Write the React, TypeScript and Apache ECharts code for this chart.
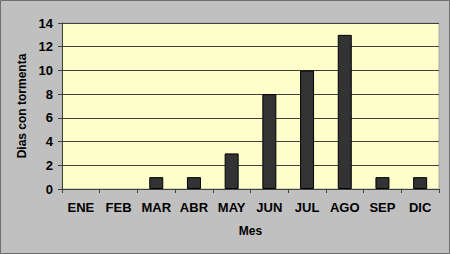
import React, { useEffect, useRef } from "react";
import * as echarts from "echarts";

const categories = ["ENE", "FEB", "MAR", "ABR", "MAY", "JUN", "JUL", "AGO", "SEP", "DIC"];
const values = [0, 0, 1, 1, 3, 8, 10, 13, 1, 1];
const yAxisName = "Dias con tormenta";
const xAxisName = "Mes";

export default function App() {
  const ref = useRef<HTMLDivElement>(null);
  useEffect(() => {
    const chart = echarts.init(ref.current!, null, { renderer: "svg" });
    const font = "'Liberation Sans', Arial, sans-serif";
    chart.setOption({
      animation: false,
      backgroundColor: "#c0c0c0",
      graphic: [
        {
          type: "rect",
          shape: { x: 0.5, y: 0.5, width: 449, height: 253 },
          style: { fill: "none", stroke: "#6e6e6e", lineWidth: 1 },
          silent: true,
        },
      ],
      grid: {
        left: 62,
        right: 11,
        top: 23,
        bottom: 65,
        show: true,
        backgroundColor: "#ffffcc",
        borderColor: "#a8a8a0",
        borderWidth: 1,
      },
      xAxis: {
        type: "category",
        data: categories,
        name: xAxisName,
        nameLocation: "middle",
        nameGap: 36,
        nameTextStyle: { fontFamily: font, fontWeight: "bold", fontSize: 12, color: "#000" },
        axisLine: { lineStyle: { color: "#404040", width: 1 } },
        axisTick: { show: true, length: 4, alignWithLabel: false, lineStyle: { color: "#404040" } },
        axisLabel: { fontFamily: font, fontWeight: "bold", fontSize: 13, color: "#000", margin: 12, interval: 0 },
      },
      yAxis: {
        type: "value",
        min: 0,
        max: 14,
        interval: 2,
        name: yAxisName,
        nameLocation: "middle",
        nameGap: 33,
        nameTextStyle: { fontFamily: font, fontWeight: "bold", fontSize: 12, color: "#000" },
        axisLine: { show: true, lineStyle: { color: "#404040", width: 1 } },
        axisTick: { show: true, length: 4, lineStyle: { color: "#404040" } },
        axisLabel: { fontFamily: font, fontWeight: "bold", fontSize: 13, color: "#000", margin: 9 },
        splitLine: { show: true, lineStyle: { color: "#404040", width: 1 } },
      },
      series: [
        {
          type: "bar",
          data: values.map((v) => (v === 0 ? { value: v, itemStyle: { borderWidth: 0 } } : v)),
          barWidth: 14,
          itemStyle: { color: "#333333", borderColor: "#000", borderWidth: 1 },
        },
      ],
    });
    return () => chart.dispose();
  }, []);
  return <div ref={ref} style={{ position: "fixed", left: 0, top: 0, width: 450, height: 254 }} />;
}
